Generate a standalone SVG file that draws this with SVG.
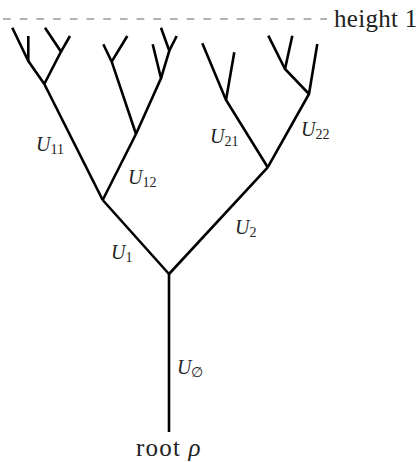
<svg xmlns="http://www.w3.org/2000/svg" width="419" height="462" viewBox="0 0 419 462">
<style>
.e{stroke:#000;stroke-width:2.6;fill:none;stroke-linecap:butt;stroke-linejoin:miter}
.lbl{font-family:"Liberation Serif",serif;font-style:italic;font-size:20px;fill:#222}
.sub{font-style:normal;font-size:14px}
.txt{font-family:"Liberation Serif",serif;font-size:25px;fill:#222}
</style>
<rect width="419" height="462" fill="#fff"/>
<g id="height-line">
<line x1="3" y1="19" x2="327" y2="19" stroke="#666" stroke-width="1.2" stroke-dasharray="7.7 9"/>
<text class="txt" x="334" y="27" letter-spacing="0.3">height 1</text>
</g>
<g id="connectors">
<path class="e" d="M169,432 V274"/>
<path class="e" d="M169,274 L102.7,200"/>
<path class="e" d="M169,274 L267.7,167.3"/>
<path class="e" d="M102.7,200 L44.3,84"/>
<path class="e" d="M102.7,200 L136,134"/>
<path class="e" d="M44.3,84 L28.3,61 L12.3,27.7"/>
<path class="e" d="M28.3,61 V36"/>
<path class="e" d="M44.3,84 L61,51.7 L45,27.7"/>
<path class="e" d="M61,51.7 L70,36"/>
<path class="e" d="M136,134 L111.7,61.7 L103.3,44.3"/>
<path class="e" d="M111.7,61.7 L127.3,36"/>
<path class="e" d="M136,134 L161,78.3 L152.7,44.3"/>
<path class="e" d="M161,78.3 L169.3,50.7 L161,27.7"/>
<path class="e" d="M169.3,50.7 L176.7,36"/>
<path class="e" d="M267.7,167.3 L226,100 L202.3,43.3"/>
<path class="e" d="M226,100 L234.3,52.3"/>
<path class="e" d="M267.7,167.3 L309,94 L317.3,44"/>
<path class="e" d="M309,94 L285,69 L268.3,35.7"/>
<path class="e" d="M285,69 L292.3,35.7"/>
</g>
<g id="root"><text class="txt" x="136" y="456" letter-spacing="1.2">root <tspan font-style="italic">ρ</tspan></text></g>
<g id="U0"><text class="lbl" x="177" y="374">U<tspan class="sub" dy="3">∅</tspan></text></g>
<g id="U1"><text class="lbl" x="111" y="259">U<tspan class="sub" dy="3">1</tspan></text></g>
<g id="U2"><text class="lbl" x="235" y="234">U<tspan class="sub" dy="3">2</tspan></text></g>
<g id="U11"><text class="lbl" x="36" y="151">U<tspan class="sub" dy="3">11</tspan></text></g>
<g id="U12"><text class="lbl" x="128" y="184">U<tspan class="sub" dy="3">12</tspan></text></g>
<g id="U21"><text class="lbl" x="210" y="143">U<tspan class="sub" dy="3">21</tspan></text></g>
<g id="U22"><text class="lbl" x="301" y="136">U<tspan class="sub" dy="3">22</tspan></text></g>
</svg>
